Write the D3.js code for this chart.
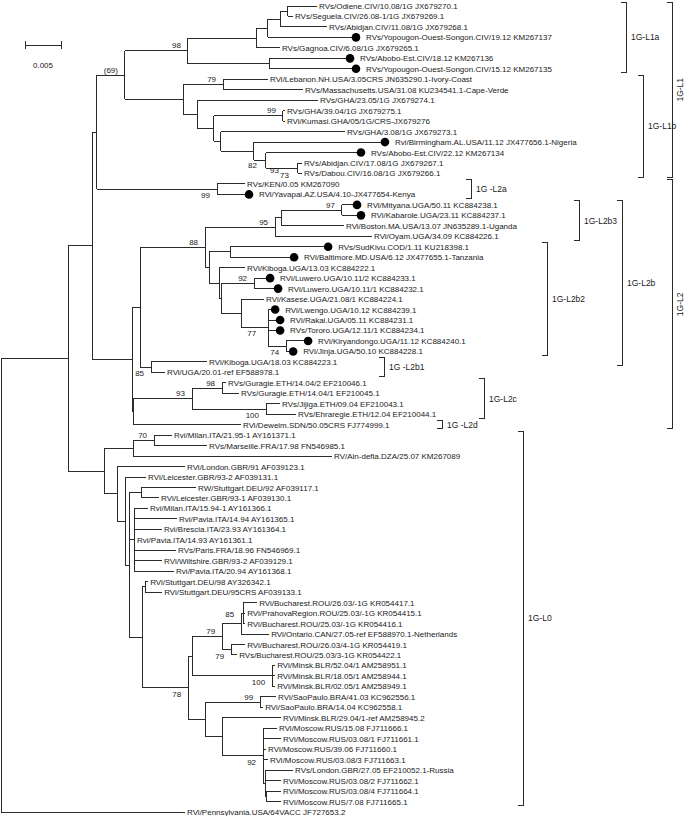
<!DOCTYPE html>
<html><head><meta charset="utf-8">
<script src="https://cdn.jsdelivr.net/npm/d3@7"></script>
<style>body{margin:0;background:#fff}svg{display:block}text{font-family:"Liberation Sans",Arial,Helvetica,sans-serif;fill:#1a1a1a}</style>
</head><body><svg id="c" width="689" height="816"></svg>
<script>
// [node, parent, branch length (substitutions/site)]
const edges = [
["root","",0],
["A","root",0.00931],
["B","A",0.00333],
["C","B",0.00069],
["L1","C",0.00389],
["L1a","L1",0.00875],
["P4","L1a",0.00958],
["P3","P4",0.00153],
["P2","P3",0.00167],
["P1","P2",0.00111],
["RVs/Odiene.CIV/10.08/1G JX679270.1","P1",0.00403],
["RVs/Seguela.CIV/26.08-1/1G JX679269.1","P1",0.00069],
["RVs/Abidjan.CIV/11.08/1G JX679268.1","P2",0.00653],
["RVs/Yopougon-Ouest-Songon.CIV/19.12 KM267137","P3",0.01167],
["RVs/Gagnoa.CIV/6.08/1G JX679265.1","P4",0.00319],
["P5","L1a",0.01139],
["RVs/Abobo-Est.CIV/18.12 KM267136","P5",0.01056],
["RVs/Yopougon-Ouest-Songon.CIV/15.12 KM267135","P5",0.01139],
["L1b","L1",0.00806],
["LM","L1b",0.00556],
["RVi/Lebanon.NH.USA/3.05CRS JN635290.1-Ivory-Coast","LM",0.00625],
["RVs/Massachusetts.USA/31.08 KU234541.1-Cape-Verde","LM",0.01111],
["X","L1b",0.00208],
["RVs/GHA/23.05/1G JX679274.1","X",0.01667],
["Y","X",0.00222],
["GP","Y",0.00958],
["RVs/GHA/39.04/1G JX679275.1","GP",0.00028],
["RVi/Kumasi.GHA/05/1G/CRS-JX679276","GP",0.00028],
["Z","Y",0.00097],
["RVs/GHA/3.08/1G JX679273.1","Z",0.01722],
["W","Z",0.00458],
["Rvi/Birmingham.AL.USA/11.12 JX477656.1-Nigeria","W",0.01764],
["V","W",0.00167],
["RVs/Abobo-Est.CIV/22.12 KM267134","V",0.01264],
["AD","V",0.00444],
["RVs/Abidjan.CIV/17.08/1G JX679267.1","AD",0.00056],
["RVs/Dabou.CIV/16.08/1G JX679266.1","AD",0.00056],
["L2a","C",0.01667],
["RVs/KEN/0.05 KM267090","L2a",0.00389],
["RVi/Yavapai.AZ.USA/4.10-JX477654-Kenya","L2a",0.00389],
["D","B",0.00556],
["L2b","D",0.00111],
["L2bA","L2b",0.00903],
["L2b3","L2bA",0.00972],
["BN","L2b3",0.00083],
["MK","BN",0.00847],
["RVi/Mityana.UGA/50.11 KC884238.1","MK",0.00153],
["RVi/Kabarole.UGA/23.11 KC884237.1","MK",0.00208],
["RVi/Boston.MA.USA/13.07 JN635289.1-Uganda","BN",0.00875],
["RVi/Oyam.UGA/34.09 KC884226.1","L2b3",0.01347],
["L2b2","L2bA",0.00056],
["H1","L2b2",0.00292],
["RVs/SudKivu.COD/1.11 KU218398.1","H1",0.01306],
["RVi/Baltimore.MD.USA/6.12 JX477655.1-Tanzania","H1",0.00833],
["N219","L2b2",0.00139],
["RVi/Kiboga.UGA/13.03 KC884222.1","N219",0.00361],
["K6","N219",0.00028],
["LU","K6",0.00458],
["RVi/Luwero.UGA/10.11/2 KC884233.1","LU",0.00167],
["RVi/Luwero.UGA/10.11/1 KC884232.1","LU",0.00278],
["K4","K6",0.00278],
["RVi/Kasese.UGA/21.08/1 KC884224.1","K4",0.00319],
["K3","K4",0.00375],
["RVi/Lwengo.UGA/10.12 KC884239.1","K3",0.00042],
["RVi/Rakai.UGA/05.11 KC884231.1","K3",0.00111],
["RVs/Tororo.UGA/12.11/1 KC884234.1","K3",0.00111],
["K1","K3",0.0025],
["RVi/Kiryandongo.UGA/11.12 KC884240.1","K1",0.0025],
["RVi/Jinja.UGA/50.10 KC884228.1","K1",0.00042],
["L2b1","L2b",0.00153],
["RVi/Kiboga.UGA/18.03 KC884223.1","L2b1",0.00778],
["RVi/UGA/20.01-ref EF588978.1","L2b1",0.00194],
["E","D",0.00014],
["L2c","E",0.00819],
["GU","L2c",0.00417],
["RVs/Guragie.ETH/14.04/2 EF210046.1","GU",0.00056],
["RVs/Guragie.ETH/14.04/1 EF210045.1","GU",0.00236],
["JE","L2c",0.01028],
["RVs/Jijiga.ETH/09.04 EF210043.1","JE",0.00194],
["RVs/Ehraregie.ETH/12.04 EF210044.1","JE",0.00417],
["RVi/Deweim.SDN/50.05CRS FJ774999.1","E",0.015],
["L0","A",0.005],
["MMA","L0",0.00403],
["MM","MMA",0.00292],
["Rvi/Milan.ITA/21.95-1 AY161371.1","MM",0.0025],
["RVs/Marseille.FRA/17.98 FN546985.1","MM",0.00736],
["RV/Ain-defla.DZA/25.07 KM267089","MMA",0.02764],
["Q","L0",0.00181],
["RVi/London.GBR/91 AF039123.1","Q",0.00944],
["R","Q",0.00111],
["RVi/Leicester.GBR/93-2 AF039131.1","R",0.00292],
["S","R",0.00056],
["SL","S",0.00167],
["RW/Stuttgart.DEU/92 AF039117.1","SL",0.00764],
["RVi/Leicester.GBR/93-1 AF039130.1","SL",0.0025],
["T","S",0.00069],
["Rvi/Milan.ITA/15.94-1 AY161366.1","T",0.00194],
["Rvi/Pavia.ITA/14.94 AY161365.1","T",0.00597],
["Rvi/Brescia.ITA/23.93 AY161364.1","T",0.00389],
["Rvi/Pavia.ITA/14.93 AY161361.1","T",0.00014],
["RVs/Paris.FRA/18.96 FN546969.1","T",0.00583],
["RVi/Wiltshire.GBR/93-2 AF039129.1","T",0.00389],
["Rvi/Pavia.ITA/20.94 AY161368.1","T",0.00556],
["U","S",0.00181],
["ST","U",0.00042],
["RVi/Stuttgart.DEU/98 AY326342.1","ST",0.00042],
["RVi/Stuttgart.DEU/95CRS AF039133.1","ST",0.00236],
["M0","U",0.00639],
["M2","M0",0.00056],
["M1","M2",0.00417],
["R3","M1",0.00264],
["ROU3","R3",0.00028],
["RVi/Bucharest.ROU/26.03/-1G KR054417.1","ROU3",0.00194],
["RVi/PrahovaRegion.ROU/25.03/-1G KR054415.1","ROU3",0.00028],
["RVi/Bucharest.ROU/25.03/-1G KR054416.1","ROU3",0.00028],
["RVi/Ontario.CAN/27.05-ref EF588970.1-Netherlands","R3",0.00389],
["RP","M1",0.00125],
["RVi/Bucharest.ROU/26.03/4-1G KR054419.1","RP",0.00194],
["RVs/Bucharest.ROU/25.03/3-1G KR054422.1","RP",0.00083],
["MN","M2",0.01111],
["RVi/Minsk.BLR/52.04/1 AM258951.1","MN",0.00042],
["RVi/Minsk.BLR/18.05/1 AM258944.1","MN",0.00042],
["RVi/Minsk.BLR/02.05/1 AM258949.1","MN",0.00042],
["M3","M0",0.00236],
["SP","M3",0.00764],
["RVi/SaoPaulo.BRA/41.03 KC962556.1","SP",0.00222],
["RVi/SaoPaulo.BRA/14.04 KC962558.1","SP",0.00042],
["M4","M3",0.00236],
["RVi/Minsk.BLR/29.04/1-ref AM258945.2","M4",0.00819],
["MOS","M4",0.00569],
["RVi/Moscow.RUS/15.08 FJ711666.1","MOS",0.00194],
["RVi/Moscow.RUS/03.08/1 FJ711661.1","MOS",0.0025],
["RVi/Moscow.RUS/39.06 FJ711660.1","MOS",0.00042],
["RVi/Moscow.RUS/03.08/3 FJ711663.1","MOS",0.00069],
["MOSB","MOS",0.00028],
["RVs/London.GBR/27.05 EF210052.1-Russia","MOSB",0.00389],
["RVi/Moscow.RUS/03.08/2 FJ711662.1","MOSB",0.00222],
["MOSC","MOSB",0.00014],
["RVi/Moscow.RUS/03.08/4 FJ711664.1","MOSC",0.00208],
["RVi/Moscow.RUS/7.08 FJ711665.1","MOSC",0.00208],
["RVi/Pennsylvania.USA/64VACC JF727653.2","root",0.02556]
];

// taxa marked with a black dot (new sequences)
const dotted = [
"RVs/Yopougon-Ouest-Songon.CIV/19.12 KM267137","RVs/Abobo-Est.CIV/18.12 KM267136",
"RVs/Yopougon-Ouest-Songon.CIV/15.12 KM267135","Rvi/Birmingham.AL.USA/11.12 JX477656.1-Nigeria",
"RVs/Abobo-Est.CIV/22.12 KM267134","RVi/Yavapai.AZ.USA/4.10-JX477654-Kenya",
"RVi/Mityana.UGA/50.11 KC884238.1","RVi/Kabarole.UGA/23.11 KC884237.1",
"RVs/SudKivu.COD/1.11 KU218398.1","RVi/Baltimore.MD.USA/6.12 JX477655.1-Tanzania",
"RVi/Luwero.UGA/10.11/2 KC884233.1","RVi/Luwero.UGA/10.11/1 KC884232.1",
"RVi/Lwengo.UGA/10.12 KC884239.1","RVi/Rakai.UGA/05.11 KC884231.1",
"RVs/Tororo.UGA/12.11/1 KC884234.1","RVi/Kiryandongo.UGA/11.12 KC884240.1",
"RVi/Jinja.UGA/50.10 KC884228.1"
];

// bootstrap support: node and value
const supportNodes = ["L1","L1a","LM","GP","V","AD","RVs/Dabou.CIV/16.08/1G JX679266.1","L2a","MK","L2b3","L2bA","LU","K3","K1","L2b1","GU","L2c","JE","MM","ROU3","M1","RP","MN","M0","SP","MOS"];
const supportValues = ["(69)","98","79","99","82","93","73","99","97","95","88","92","77","74","85","98","93","100","70","85","79","79","100","78","99","92"];

// clade brackets: label, first leaf index, last leaf index
const cladeNames = ["1G-L1a","1G-L1b","1G-L1","1G -L2a","1G-L2b3","1G-L2b2","1G -L2b1","1G-L2b","1G-L2c","1G -L2d","1G-L2","1G-L0"];
const cladeFirst = [0,7,0,17,19,23,34,19,36,40,17,41];
const cladeLast  = [6,16,16,18,22,33,35,34,39,40,40,76];

const scaleBarValue = 0.005;

// ---------------- drawing ----------------
const svg = d3.select("#c");
const root = d3.stratify().id(d=>d[0]).parentId(d=>d[1]||null)(edges);
root.eachBefore(n=>{ n.dist = n.parent ? n.parent.dist + n.data[2] : 0; });
const leaves = root.leaves();
const maxDist = d3.max(leaves, d=>d.dist);

const pxPerUnit = 7200;
const x = d3.scaleLinear().domain([0, maxDist]).range([1, 1 + maxDist*pxPerUnit]);
const y = d3.scalePoint().domain(leaves.map(d=>d.id)).range([6, 812]);

root.eachAfter(n=>{
  if(!n.children) n.py = y(n.id);
  else n.py = (n.children[0].py + n.children[n.children.length-1].py)/2;
  n.px = x(n.dist);
});

const lineCol = "#2b2b2b";
const g = svg.append("g").attr("stroke", lineCol).attr("stroke-width",1).attr("fill","none").attr("shape-rendering","crispEdges");
root.descendants().forEach(n=>{
  if(n.parent) g.append("line").attr("x1",n.parent.px).attr("x2",n.px).attr("y1",n.py).attr("y2",n.py);
  if(n.children) g.append("line").attr("x1",n.px).attr("x2",n.px)
      .attr("y1",n.children[0].py).attr("y2",n.children[n.children.length-1].py);
});

const dotSet = new Set(dotted);
leaves.forEach(l=>{
  let lx = l.px + 2;
  if(dotSet.has(l.id)){
    svg.append("circle").attr("cx",l.px+4).attr("cy",l.py).attr("r",4.3).attr("fill","#000");
    lx = l.px + 14;
  }
  svg.append("text").attr("x",lx).attr("y",l.py+3).attr("font-size",8).text(l.id);
});

// support values: offsets of the label's right end relative to the node
const below = new Set(["L2a","K1","L2b1","JE","RP","MN","M0","MOS"]);
const special = {"V":[-9,8],"AD":[-19,4.5],"RVs/Dabou.CIV/16.08/1G JX679266.1":[-13,5],"K3":[-12,8],"ROU3":[-9,3.5]};
const byId = new Map(root.descendants().map(d=>[d.id,d]));
supportNodes.forEach((id,i)=>{
  const n = byId.get(id);
  const off = special[id] || (below.has(id) ? [-7,9] : [-7,-2.5]);
  svg.append("text").attr("x",n.px+off[0]).attr("y",n.py+off[1]).attr("text-anchor","end").attr("font-size",8).text(supportValues[i]);
});

// clade brackets
const bx = {"1G-L1a":626,"1G-L1b":643,"1G-L1":672,"1G -L2a":471,"1G-L2b3":579,"1G-L2b2":547,"1G -L2b1":384,"1G-L2b":622,"1G-L2c":484,"1G -L2d":442,"1G-L2":672,"1G-L0":523};
const rotated = new Set(["1G-L1","1G-L2"]);
const bg = svg.append("g").attr("stroke",lineCol).attr("fill","none").attr("shape-rendering","crispEdges");
cladeNames.forEach((name,i)=>{
  const y1 = y(leaves[cladeFirst[i]].id)-4, y2 = y(leaves[cladeLast[i]].id)+4, xx = bx[name];
  bg.append("path").attr("d",`M${xx-5},${y1}H${xx}V${y2}H${xx-5}`);
  const my = (y1+y2)/2;
  if(rotated.has(name)){
    svg.append("text").attr("transform",`translate(${xx+11},${my}) rotate(-90)`).attr("text-anchor","middle").attr("font-size",8.5).text(name);
  } else {
    svg.append("text").attr("x",xx+5).attr("y",my+3).attr("font-size",8.5).text(name);
  }
});

// scale bar
const sbY = 45, sb0 = 25;
const sbLen = x(scaleBarValue) - x(0);
const sg = svg.append("g").attr("stroke",lineCol).attr("shape-rendering","crispEdges");
sg.append("line").attr("x1",sb0).attr("x2",sb0+sbLen).attr("y1",sbY).attr("y2",sbY);
sg.append("line").attr("x1",sb0).attr("x2",sb0).attr("y1",sbY-4).attr("y2",sbY+4);
sg.append("line").attr("x1",sb0+sbLen).attr("x2",sb0+sbLen).attr("y1",sbY-4).attr("y2",sbY+4);
svg.append("text").attr("x",sb0+sbLen/2).attr("y",sbY+23).attr("text-anchor","middle").attr("font-size",8).text(d3.format(".3f")(scaleBarValue));
</script></body></html>
